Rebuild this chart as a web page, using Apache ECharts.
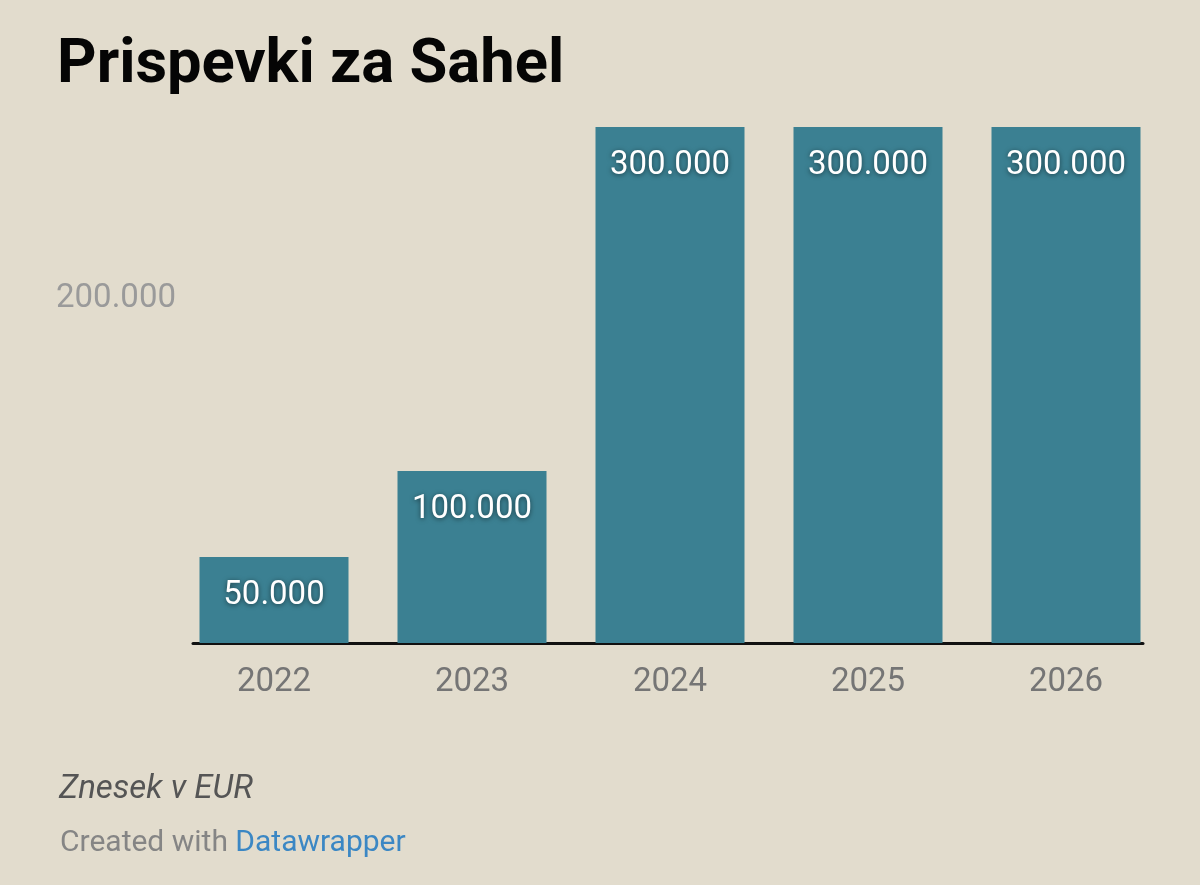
<!DOCTYPE html>
<html>
<head>
<meta charset="utf-8">
<script src="https://cdn.jsdelivr.net/npm/echarts@6/dist/echarts.min.js"></script>
<style>
  html, body { margin: 0; padding: 0; background: #e2dccd; }
  #chart { width: 1200px; height: 885px; }
</style>
</head>
<body>
<div id="chart"></div>
<script>
const years = ['2022', '2023', '2024', '2025', '2026']
const amounts = [50000, 100000, 300000, 300000, 300000]
const yTicks = [200000]

// 50000 -> 50.000
function fmt(v){
  return String(v).replace(/\B(?=(\d{3})+(?!\d))/g, '.')
}

const chart = echarts.init(document.getElementById('chart'))
chart.setOption({
  backgroundColor: '#e2dccd',
  animation: false,
  textStyle: { fontFamily: 'Roboto' },
  title: [
    {
      text: 'Prispevki za Sahel',
      left: 52, top: 31,
      textStyle: { fontFamily: 'Roboto', fontWeight: 'bold', fontSize: 61.5, color: '#050505' }
    },
    {
      text: 'Znesek v EUR',
      left: 54, top: 768,
      textStyle: { fontFamily: 'Roboto', fontStyle: 'italic', fontWeight: 'normal', fontSize: 33, color: '#555' }
    },
    {
      text: '{a|Created with }{b|Datawrapper}',
      left: 55, top: 823,
      textStyle: {
        fontWeight: 'normal',
        rich: {
          a: { fontFamily: 'Roboto', fontWeight: 'normal', fontSize: 30, color: '#858585' },
          b: { fontFamily: 'Roboto', fontWeight: 'normal', fontSize: 30, color: '#3b87c4' }
        }
      }
    }
  ],
  grid: [
    { left: 175, width: 990, top: 127, bottom: 242 },
    { left: 193, width: 950, top: 127, bottom: 242 }
  ],
  xAxis: [
    {
      type: 'category', data: years, gridIndex: 0,
      axisLine: { show: false }, axisTick: { show: false },
      axisLabel: { fontSize: 33, color: '#757575', margin: 23, fontFamily: 'Roboto' }
    },
    {
      type: 'value', gridIndex: 1, min: 0, max: 1,
      axisLine: { show: true, lineStyle: { color: '#111', width: 3 } },
      axisTick: { show: false }, axisLabel: { show: false }, splitLine: { show: false }
    }
  ],
  yAxis: [
    {
      type: 'value', gridIndex: 0, min: 0, max: 300000, interval: 100000,
      axisLine: { show: false }, axisTick: { show: false }, splitLine: { show: false },
      axisLabel: {
        customValues: yTicks, formatter: fmt,
        align: 'left', margin: 119, fontSize: 33, color: '#9a9a9a', fontFamily: 'Roboto',
        padding: [8, 0, 0, 0]
      }
    },
    {
      type: 'value', gridIndex: 1, min: 0, max: 1, show: false
    }
  ],
  series: [
    {
      type: 'bar', data: amounts, xAxisIndex: 0, yAxisIndex: 0,
      barWidth: 149,
      itemStyle: { color: '#3b8092' },
      label: {
        show: true, position: 'insideTop', distance: 22,
        formatter: p => fmt(p.value),
        fontSize: 33, color: '#fff', fontFamily: 'Roboto',
        textShadowColor: 'rgba(0,0,0,0.55)', textShadowBlur: 5, textShadowOffsetY: 1
      }
    }
  ]
})
</script>
</body>
</html>
